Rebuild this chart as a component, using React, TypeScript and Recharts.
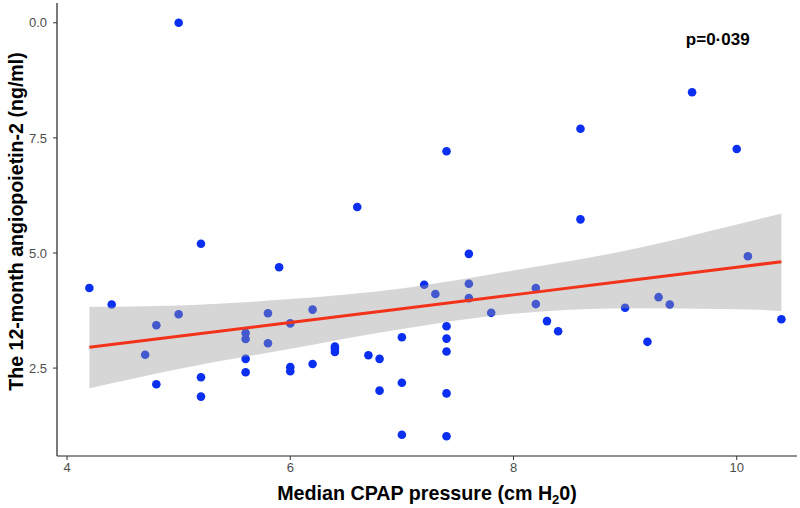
import { ComposedChart, Scatter, Area, Line, XAxis, YAxis, Label, ReferenceDot } from 'recharts';

// CPAP pressure (x) and 12-month angiopoietin-2 (y) per patient
const cpapPressure = [
  5.0, 6.6, 5.2, 5.9, 4.2, 7.2, 4.4, 5.0, 4.8, 5.8, 6.2, 6.0, 5.6, 5.6, 5.8, 4.7, 7.0, 6.4, 6.4, 6.4,
  6.7, 6.8, 5.6, 6.2, 6.0, 6.0, 5.6, 5.2, 4.8, 7.0, 5.2, 6.8, 7.0, 9.6, 8.6, 10.0, 7.4, 8.6, 7.6, 10.1,
  7.3, 7.6, 7.6, 8.2, 8.2, 7.8, 8.3, 8.4, 9.0, 9.3, 9.4, 10.4, 9.2, 7.4, 7.4, 7.4, 7.4, 7.4,
];
const angiopoietin = [
  10.0, 6.0, 5.2, 4.69, 4.24, 4.31, 3.88, 3.67, 3.43, 3.69, 3.77, 3.47, 3.26, 3.13, 3.04, 2.79, 3.17, 2.97, 2.92, 2.85,
  2.78, 2.7, 2.7, 2.59, 2.52, 2.43, 2.41, 2.3, 2.15, 2.18, 1.88, 2.01, 1.05, 8.49, 7.7, 7.26, 7.21, 5.73, 4.98, 4.93,
  4.11, 4.33, 4.02, 4.24, 3.89, 3.7, 3.52, 3.3, 3.81, 4.04, 3.88, 3.56, 3.07, 3.41, 3.14, 2.86, 1.95, 1.02,
];

// linear fit with confidence band
const fitX = [4.2, 5, 6, 7, 8, 9, 10, 10.4];
const fitY = [2.95, 3.19, 3.49, 3.79, 4.09, 4.39, 4.69, 4.81];
const fitLower = [2.06, 2.48, 2.92, 3.35, 3.68, 3.8, 3.78, 3.74];
const fitUpper = [3.83, 3.86, 4.0, 4.23, 4.62, 5.05, 5.62, 5.86];

const xTicks = [4, 6, 8, 10];
const yTicks = [2.5, 5, 7.5, 10];
const yTickLabels = ['2.5', '5.0', '7.5', '0.0'];

const points = cpapPressure.map((x, i) => ({ x, y: angiopoietin[i] }));
const fitData = fitX.map((x, i) => ({ x, fit: fitY[i], band: [fitLower[i], fitUpper[i]] }));

const Dot = (props: any) => <circle cx={props.cx} cy={props.cy} r={4.3} fill="#0a2ff0" />;

export default function App() {
  return (
    <div style={{ position: 'fixed', left: 0, top: 0, background: '#fff', fontFamily: '"Liberation Sans", Arial, sans-serif' }}>
      <ComposedChart width={800} height={508} data={fitData} margin={{ top: 3, right: 3, bottom: 0, left: 20 }}>
        <XAxis
          type="number"
          dataKey="x"
          domain={[3.91, 10.54]}
          ticks={xTicks}
          allowDataOverflow
          height={52}
          tickSize={4}
          tickMargin={3}
          axisLine={{ stroke: '#222', strokeWidth: 1.2 }}
          tickLine={{ stroke: '#333' }}
          tick={{ fill: '#4d4d4d', fontSize: 13 }}
        >
          <Label
            content={({ viewBox }: any) => (
              <text x={viewBox.x + viewBox.width / 2} y={500} textAnchor="middle" fontSize={19.7} fontWeight="bold" fill="#000">
                Median CPAP pressure (cm H
                <tspan fontSize={13} dy={4}>2</tspan>
                <tspan dy={-4}>0)</tspan>
              </text>
            )}
          />
        </XAxis>
        <YAxis
          type="number"
          domain={[0.59, 10.43]}
          ticks={yTicks}
          allowDataOverflow
          width={37}
          tickSize={4}
          tickMargin={6}
          tickFormatter={(v: number) => yTickLabels[yTicks.indexOf(v)]}
          axisLine={{ stroke: '#222', strokeWidth: 1.2 }}
          tickLine={{ stroke: '#333' }}
          tick={{ fill: '#4d4d4d', fontSize: 13 }}
        >
          <Label
            content={({ viewBox }: any) => {
              const cx = 23;
              const cy = viewBox.y + viewBox.height / 2 - 8;
              return (
                <text x={cx} y={cy} transform={`rotate(-90 ${cx} ${cy})`} textAnchor="middle" fontSize={19.6} fontWeight="bold" fill="#000">
                  The 12-month angiopoietin-2 (ng/ml)
                </text>
              );
            }}
          />
        </YAxis>
        <Scatter data={points} dataKey="y" shape={Dot} zIndex={300} isAnimationActive={false} />
        <Area dataKey="band" type="monotone" stroke="none" fill="#999999" fillOpacity={0.4} zIndex={650} isAnimationActive={false} />
        <Line dataKey="fit" type="linear" stroke="#f2331a" strokeWidth={3} dot={false} activeDot={false} zIndex={700} isAnimationActive={false} />
        <ReferenceDot
          x={9.83}
          y={9.65}
          r={0}
          label={{ value: 'p=0·039', position: 'center', fontSize: 17, fontWeight: 'bold', fill: '#000' }}
        />
      </ComposedChart>
    </div>
  );
}
